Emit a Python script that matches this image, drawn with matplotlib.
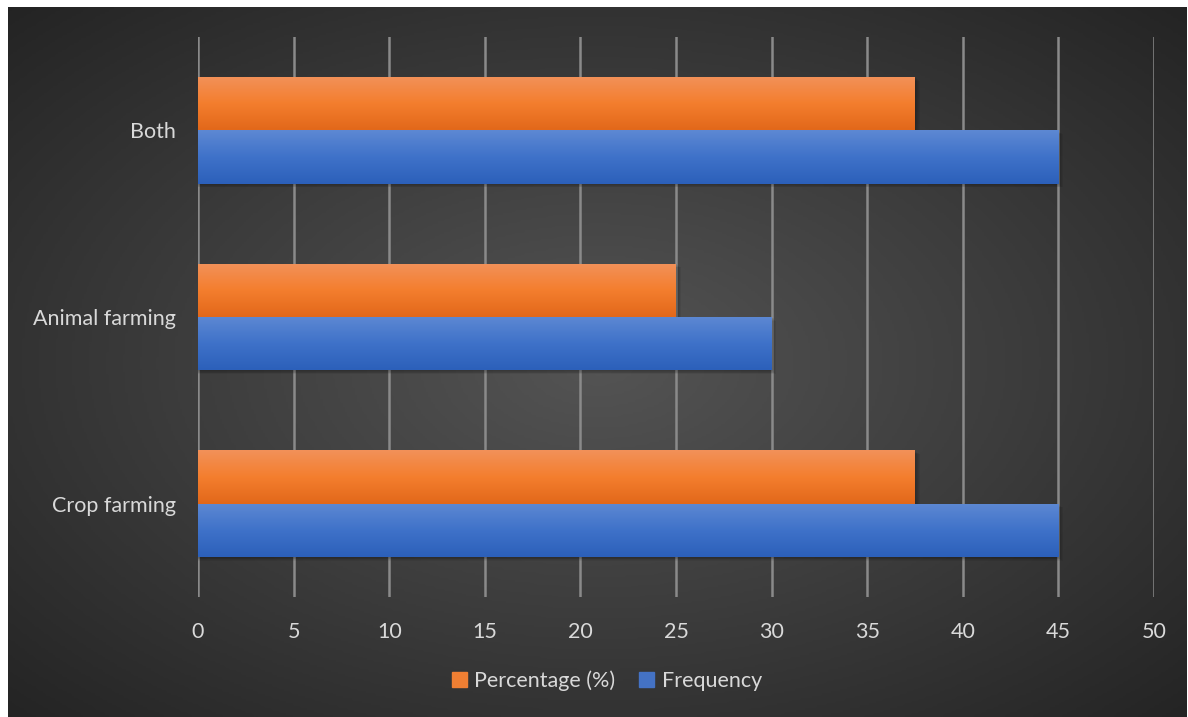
import numpy as np
import matplotlib.pyplot as plt
from matplotlib.colors import LinearSegmentedColormap
from matplotlib.patches import Rectangle

categories = ["Crop farming", "Animal farming", "Both"]
percentage = [37.5, 25, 37.5]
frequency = [45, 30, 45]
xticks = [0, 5, 10, 15, 20, 25, 30, 35, 40, 45, 50]

plt.rcParams['font.family'] = ['Lato', 'DejaVu Sans']
txt = '#D9D9D9'

W, H = 1188, 717
fig = plt.figure(figsize=(W / 100, H / 100), dpi=100)
fig.patch.set_facecolor('white')

# radial dark background
bg = fig.add_axes([8 / W, 0, (W - 9) / W, (H - 7) / H])
bg.set_axis_off()
yy, xx = np.mgrid[0:300, 0:500]
cx, cy = 250, 150
r = np.sqrt(((xx - cx) / 500) ** 2 + ((yy - cy) / 300) ** 2) / 0.72
r = np.clip(r, 0, 1)
bgmap = LinearSegmentedColormap.from_list('bg', ['#545454', '#3c3c3c', '#232323'])
bg.imshow(r, cmap=bgmap, aspect='auto', extent=[0, 1, 0, 1], vmin=0, vmax=1)
bg.set_xlim(0, 1)
bg.set_ylim(0, 1)

ax = fig.add_axes([198 / W, (H - 597) / H, (1154 - 198) / W, 560 / H])
ax.set_facecolor('none')
for s in ax.spines.values():
    s.set_visible(False)

y = np.arange(len(categories))
h = 0.286

orange_cm = LinearSegmentedColormap.from_list('o', ['#E2681A', '#F47E2E', '#F29159'])
blue_cm = LinearSegmentedColormap.from_list('b', ['#2C60BA', '#3F72C9', '#5D88D3'])
grad = np.linspace(0, 1, 64).reshape(-1, 1)

def grad_bars(ypos, vals, cmap, label):
    bars = ax.barh(ypos, vals, height=h, color='none', label=label, zorder=3)
    for b in bars:
        x0, y0 = b.get_x(), b.get_y()
        w, hh = b.get_width(), b.get_height()
        # soft drop shadow
        for k in range(1, 6):
            ax.add_patch(Rectangle((x0, y0 - 0.004 * k), w + 0.05 * k, hh,
                                   color='black', alpha=0.06, lw=0, zorder=2))
        im = ax.imshow(grad, cmap=cmap, aspect='auto', origin='lower',
                       extent=[x0, x0 + w, y0, y0 + hh], zorder=3)
        im.set_clip_path(b)
    return bars

grad_bars(y + h / 2, percentage, orange_cm, 'Percentage (%)')
grad_bars(y - h / 2, frequency, blue_cm, 'Frequency')

ax.set_xlim(0, 50)
ax.set_ylim(-0.5, 2.5)
ax.set_xticks(xticks)
ax.set_yticks(y)
ax.set_yticklabels(categories)
ax.grid(axis='x', color='#8a8a8a', lw=1.8, zorder=1)
ax.tick_params(axis='both', length=0, colors=txt, labelsize=15.5)
ax.tick_params(axis='y', pad=16)
ax.tick_params(axis='x', pad=18)

handles = [Rectangle((0, 0), 1, 1, color='#F07F33'), Rectangle((0, 0), 1, 1, color='#4472C4')]
leg = fig.legend(handles, ['Percentage (%)', 'Frequency'], loc='center',
                 bbox_to_anchor=(607 / W, (H - 681) / H), ncol=2, frameon=False,
                 fontsize=15.5, handlelength=0.7, handleheight=0.7,
                 handletextpad=0.35, columnspacing=1.1)
for t in leg.get_texts():
    t.set_color(txt)

fig.savefig('out.png', dpi=100)
